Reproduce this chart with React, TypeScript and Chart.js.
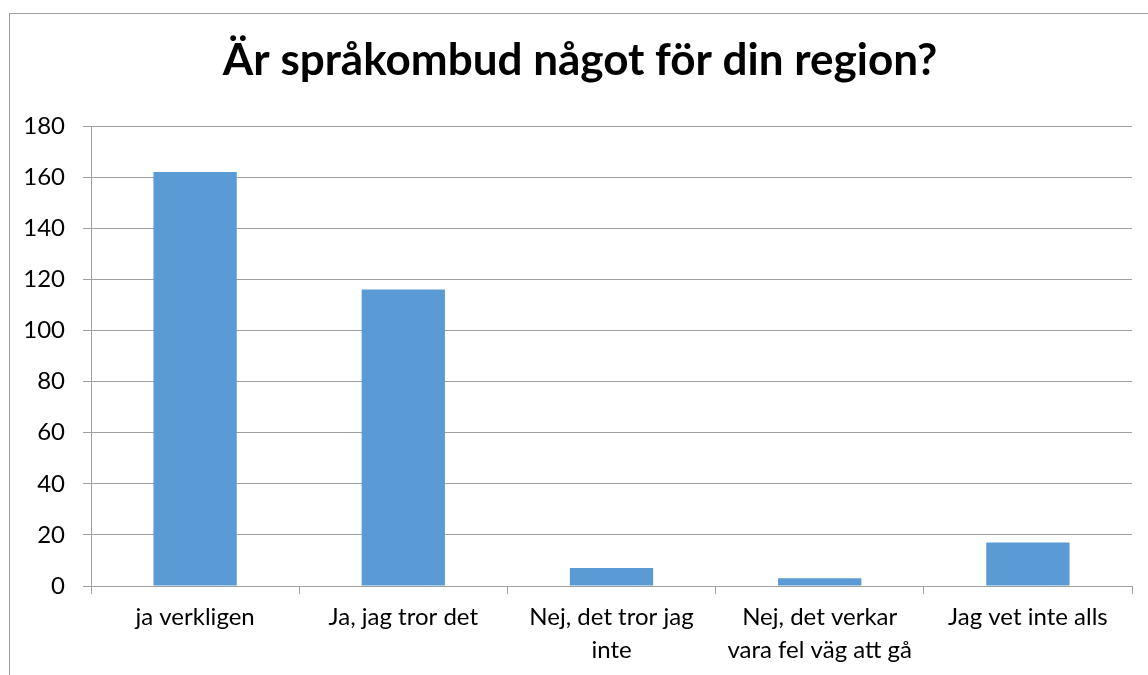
import React, { useEffect, useRef } from "react";
import { Chart, registerables } from "chart.js";

Chart.register(...registerables);

const TITLE = "Är språkombud något för din region?";
const categories: (string | string[])[] = [
  "ja verkligen",
  "Ja, jag tror det",
  ["Nej, det tror jag", "inte"],
  ["Nej, det verkar", "vara fel väg att gå"],
  "Jag vet inte alls",
];
const values = [162, 116, 7, 3, 17];
const yTicks = [0, 20, 40, 60, 80, 100, 120, 140, 160, 180];

const FONT = "Lato, 'Open Sans', sans-serif";

export default function App() {
  const ref = useRef<HTMLCanvasElement | null>(null);
  useEffect(() => {
    if (!ref.current) return;
    const titlePlugin = {
      id: "customTitle",
      afterDraw(chart: any) {
        const ctx = chart.ctx;
        ctx.save();
        ctx.font = `bold 44px ${FONT}`;
        ctx.fillStyle = "#000";
        ctx.textAlign = "center";
        ctx.textBaseline = "alphabetic";
        ctx.fillText(TITLE, 580, 75);
        ctx.restore();
      },
    };
    const chart = new Chart(ref.current, {
      type: "bar",
      data: {
        labels: categories,
        datasets: [
          {
            data: values,
            backgroundColor: "#5b9bd5",
            borderWidth: 0,
            categoryPercentage: 1,
            barPercentage: 0.4,
          },
        ],
      },
      plugins: [titlePlugin],
      options: {
        animation: false,
        responsive: false,
        maintainAspectRatio: false,
        layout: { padding: { top: 126, right: 16, left: 0, bottom: 0 } },
        plugins: {
          legend: { display: false },
          title: { display: false },
          tooltip: { enabled: false },
        },
        scales: {
          x: {
            offset: true,
            grid: {
              offset: true,
              drawOnChartArea: false,
              drawTicks: true,
              tickLength: 8,
              color: "#a0a0a0",
            },
            border: { display: true, color: "#a0a0a0", width: 1 },
            ticks: {
              color: "#000",
              font: { family: FONT, size: 24, lineHeight: 1.4 },
              padding: 6,
              maxRotation: 0,
              autoSkip: false,
            },
            afterFit(scale: any) {
              scale.height = 89;
            },
          },
          y: {
            min: 0,
            max: 180,
            afterBuildTicks(scale: any) {
              scale.ticks = yTicks.map((v) => ({ value: v }));
            },
            grid: {
              color: "#a0a0a0",
              tickLength: 8,
              drawTicks: true,
            },
            border: { display: true, color: "#a0a0a0", width: 1 },
            ticks: {
              color: "#000",
              font: { family: FONT, size: 24 },
              padding: 18,
            },
            afterFit(scale: any) {
              scale.width = 91;
            },
          },
        },
      },
    });
    return () => chart.destroy();
  }, []);
  return (
    <div>
      <div
        style={{
          position: "fixed",
          left: 9,
          top: 13,
          width: 1200,
          height: 800,
          borderTop: "1px solid #a0a0a0",
          borderLeft: "1px solid #a0a0a0",
          boxSizing: "border-box",
        }}
      />
      <canvas
        ref={ref}
        width={1148}
        height={675}
        style={{ position: "fixed", left: 0, top: 0, width: 1148, height: 675 }}
      />
    </div>
  );
}
